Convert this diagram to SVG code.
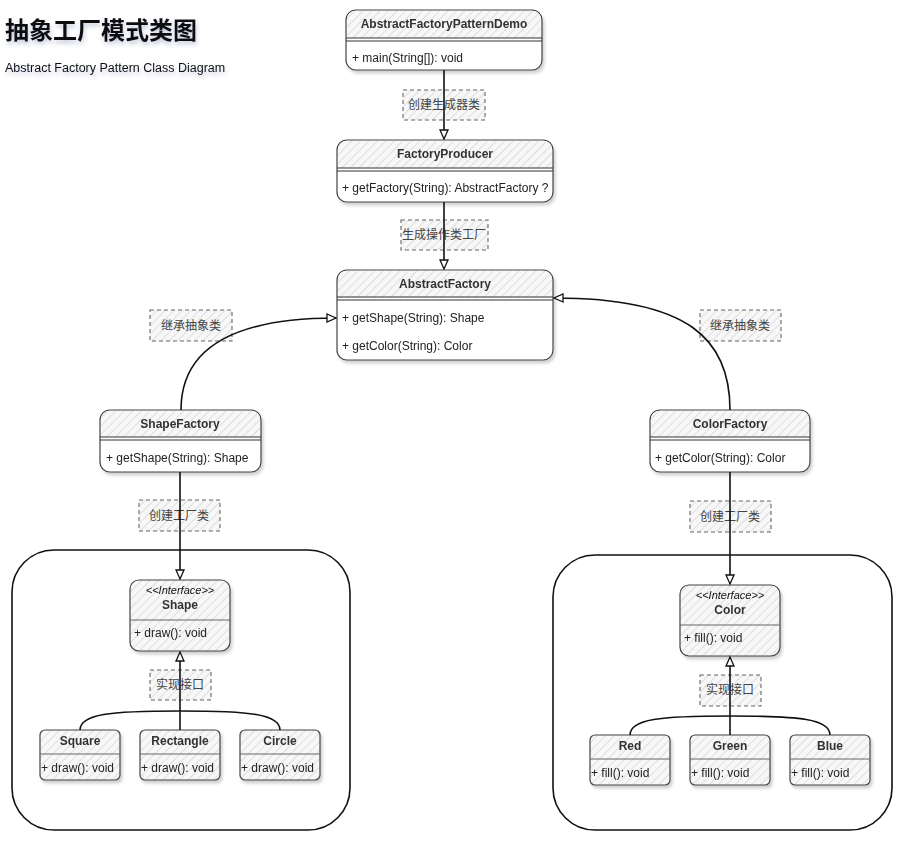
<svg xmlns="http://www.w3.org/2000/svg" width="904" height="842" viewBox="0 0 904 842">
<defs>
<pattern id="hatch" width="6" height="6" patternUnits="userSpaceOnUse" patternTransform="rotate(45)">
<rect width="6" height="6" fill="#f7f7f7"/>
<line x1="0" y1="0" x2="0" y2="6" stroke="#d6d6d6" stroke-width="1.5"/>
</pattern>
<filter id="sh" x="-10%" y="-10%" width="130%" height="140%">
<feDropShadow dx="2" dy="3" stdDeviation="1.5" flood-color="#000" flood-opacity="0.18"/>
</filter>
<filter id="tsh" x="-10%" y="-30%" width="130%" height="180%">
<feDropShadow dx="1" dy="3" stdDeviation="2" flood-color="#3a4a80" flood-opacity="0.3"/>
</filter>
<marker id="tri" markerWidth="12" markerHeight="12" refX="10" refY="5" orient="auto" markerUnits="userSpaceOnUse">
<path d="M1,1 L10,5 L1,9 Z" fill="#fff" stroke="#111" stroke-width="1.3"/>
</marker>
</defs>
<style>
text{font-family:"Liberation Sans","Noto Sans CJK SC",sans-serif;fill:#111}
.hdr{font-size:12px;font-weight:bold;text-anchor:middle;fill:#333}
.mem{font-size:12px;fill:#222}
.box{fill:#fff;stroke:#444;stroke-width:1.2}
.hb{fill:url(#hatch);stroke:none}
.sep{stroke:#333;stroke-width:1.2}
.lbl{fill:url(#hatch);stroke:#666;stroke-width:1.1;stroke-dasharray:4 3}
.lt{font-size:12px;text-anchor:middle;fill:#444}
.edge{fill:none;stroke:#111;stroke-width:1.6}
.cont{fill:none;stroke:#111;stroke-width:1.6}
</style>

<g id="title">
<text x="5" y="39" font-size="24" font-weight="bold" filter="url(#tsh)">抽象工厂模式类图</text>
<text x="5" y="72" font-size="12.5" filter="url(#tsh)">Abstract Factory Pattern Class Diagram</text>
</g>

<g id="containers">
<rect class="cont" x="12" y="550" width="338" height="280" rx="42"/>
<rect class="cont" x="553" y="555" width="339" height="275" rx="42"/>
</g>

<g id="AbstractFactoryPatternDemo" filter="url(#sh)">
<rect class="box" x="346" y="10" width="196" height="60" rx="10"/>
<path class="hb" d="M356,11 H532 Q541,11 541,20 V38 H347 V20 Q347,11 356,11 Z"/>
<line class="sep" x1="346" y1="38" x2="542" y2="38"/><line class="sep" x1="346" y1="41" x2="542" y2="41"/>
<text class="hdr" x="444" y="28">AbstractFactoryPatternDemo</text>
<text class="mem" x="352" y="62">+ main(String[]): void</text>
</g>

<g id="FactoryProducer" filter="url(#sh)">
<rect class="box" x="337" y="140" width="216" height="62" rx="10"/>
<path class="hb" d="M347,141 H543 Q552,141 552,150 V168 H338 V150 Q338,141 347,141 Z"/>
<line class="sep" x1="337" y1="168" x2="553" y2="168"/><line class="sep" x1="337" y1="171" x2="553" y2="171"/>
<text class="hdr" x="445" y="158">FactoryProducer</text>
<text class="mem" x="342" y="192">+ getFactory(String): AbstractFactory ?</text>
</g>

<g id="AbstractFactory" filter="url(#sh)">
<rect class="box" x="337" y="270" width="216" height="90" rx="10"/>
<path class="hb" d="M347,271 H543 Q552,271 552,280 V298 H338 V280 Q338,271 347,271 Z"/>
<line class="sep" x1="337" y1="297" x2="553" y2="297"/><line class="sep" x1="337" y1="300" x2="553" y2="300"/>
<text class="hdr" x="445" y="288">AbstractFactory</text>
<text class="mem" x="342" y="322">+ getShape(String): Shape</text>
<text class="mem" x="342" y="350">+ getColor(String): Color</text>
</g>

<g id="ShapeFactory" filter="url(#sh)">
<rect class="box" x="100" y="410" width="161" height="62" rx="10"/>
<path class="hb" d="M110,411 H251 Q260,411 260,420 V437 H101 V420 Q101,411 110,411 Z"/>
<line class="sep" x1="100" y1="437" x2="261" y2="437"/><line class="sep" x1="100" y1="440" x2="261" y2="440"/>
<text class="hdr" x="180" y="428">ShapeFactory</text>
<text class="mem" x="106" y="462">+ getShape(String): Shape</text>
</g>

<g id="ColorFactory" filter="url(#sh)">
<rect class="box" x="650" y="410" width="160" height="62" rx="10"/>
<path class="hb" d="M660,411 H800 Q809,411 809,420 V437 H651 V420 Q651,411 660,411 Z"/>
<line class="sep" x1="650" y1="437" x2="810" y2="437"/><line class="sep" x1="650" y1="440" x2="810" y2="440"/>
<text class="hdr" x="730" y="428">ColorFactory</text>
<text class="mem" x="655" y="462">+ getColor(String): Color</text>
</g>

<g id="Shape" filter="url(#sh)">
<rect x="130" y="580" width="100" height="71" rx="9" fill="url(#hatch)" stroke="#444" stroke-width="1.2"/>
<line x1="130" y1="620" x2="230" y2="620" stroke="#666" stroke-width="1"/>
<text x="180" y="594" font-size="11" font-style="italic" text-anchor="middle" fill="#444">&lt;&lt;Interface&gt;&gt;</text>
<text class="hdr" x="180" y="609">Shape</text>
<text class="mem" x="134" y="637">+ draw(): void</text>
</g>

<g id="Square" filter="url(#sh)">
<rect x="40" y="730" width="80" height="50" rx="5" fill="url(#hatch)" stroke="#444" stroke-width="1.2"/>
<line x1="40" y1="754" x2="120" y2="754" stroke="#666" stroke-width="1"/>
<text class="hdr" x="80" y="745">Square</text>
<text class="mem" x="41" y="772">+ draw(): void</text>
</g>
<g id="Rectangle" filter="url(#sh)">
<rect x="140" y="730" width="80" height="50" rx="5" fill="url(#hatch)" stroke="#444" stroke-width="1.2"/>
<line x1="140" y1="754" x2="220" y2="754" stroke="#666" stroke-width="1"/>
<text class="hdr" x="180" y="745">Rectangle</text>
<text class="mem" x="141" y="772">+ draw(): void</text>
</g>
<g id="Circle" filter="url(#sh)">
<rect x="240" y="730" width="80" height="50" rx="5" fill="url(#hatch)" stroke="#444" stroke-width="1.2"/>
<line x1="240" y1="754" x2="320" y2="754" stroke="#666" stroke-width="1"/>
<text class="hdr" x="280" y="745">Circle</text>
<text class="mem" x="241" y="772">+ draw(): void</text>
</g>

<g id="Color" filter="url(#sh)">
<rect x="680" y="585" width="100" height="71" rx="9" fill="url(#hatch)" stroke="#444" stroke-width="1.2"/>
<line x1="680" y1="625" x2="780" y2="625" stroke="#666" stroke-width="1"/>
<text x="730" y="599" font-size="11" font-style="italic" text-anchor="middle" fill="#444">&lt;&lt;Interface&gt;&gt;</text>
<text class="hdr" x="730" y="614">Color</text>
<text class="mem" x="684" y="642">+ fill(): void</text>
</g>

<g id="Red" filter="url(#sh)">
<rect x="590" y="735" width="80" height="50" rx="5" fill="url(#hatch)" stroke="#444" stroke-width="1.2"/>
<line x1="590" y1="759" x2="670" y2="759" stroke="#666" stroke-width="1"/>
<text class="hdr" x="630" y="750">Red</text>
<text class="mem" x="591" y="777">+ fill(): void</text>
</g>
<g id="Green" filter="url(#sh)">
<rect x="690" y="735" width="80" height="50" rx="5" fill="url(#hatch)" stroke="#444" stroke-width="1.2"/>
<line x1="690" y1="759" x2="770" y2="759" stroke="#666" stroke-width="1"/>
<text class="hdr" x="730" y="750">Green</text>
<text class="mem" x="691" y="777">+ fill(): void</text>
</g>
<g id="Blue" filter="url(#sh)">
<rect x="790" y="735" width="80" height="50" rx="5" fill="url(#hatch)" stroke="#444" stroke-width="1.2"/>
<line x1="790" y1="759" x2="870" y2="759" stroke="#666" stroke-width="1"/>
<text class="hdr" x="830" y="750">Blue</text>
<text class="mem" x="791" y="777">+ fill(): void</text>
</g>

<g id="labels">
<rect class="lbl" x="403" y="90" width="82" height="30"/>
<text class="lt" x="444" y="109">创建生成器类</text>
<rect class="lbl" x="401" y="220" width="87" height="30"/>
<text class="lt" x="444" y="239">生成操作类工厂</text>
<rect class="lbl" x="150" y="310" width="82" height="31"/>
<text class="lt" x="191" y="330">继承抽象类</text>
<rect class="lbl" x="700" y="310" width="81" height="31"/>
<text class="lt" x="740" y="330">继承抽象类</text>
<rect class="lbl" x="139" y="500" width="81" height="31"/>
<text class="lt" x="179" y="520">创建工厂类</text>
<rect class="lbl" x="690" y="501" width="81" height="31"/>
<text class="lt" x="730" y="521">创建工厂类</text>
<rect class="lbl" x="150" y="670" width="61" height="30"/>
<text class="lt" x="180" y="689">实现接口</text>
<rect class="lbl" x="700" y="675" width="61" height="31"/>
<text class="lt" x="730" y="694">实现接口</text>
</g>

<g id="connectors">
<path class="edge" d="M444,70 V139" marker-end="url(#tri)"/>
<path class="edge" d="M444,202 V269" marker-end="url(#tri)"/>
<path class="edge" d="M181,410 C181,350 230,318 336,318" marker-end="url(#tri)"/>
<path class="edge" d="M730,410 C730,340 690,298 554,298" marker-end="url(#tri)"/>
<path class="edge" d="M180,472 V579" marker-end="url(#tri)"/>
<path class="edge" d="M730,472 V584" marker-end="url(#tri)"/>
<path class="edge" d="M180,730 V652" marker-end="url(#tri)"/>
<path class="edge" d="M80,730 C80,714 110,711 180,711 C250,711 280,714 280,730"/>
<path class="edge" d="M730,735 V657" marker-end="url(#tri)"/>
<path class="edge" d="M630,735 C630,719 660,716 730,716 C800,716 830,719 830,735"/>
</g>
</svg>
